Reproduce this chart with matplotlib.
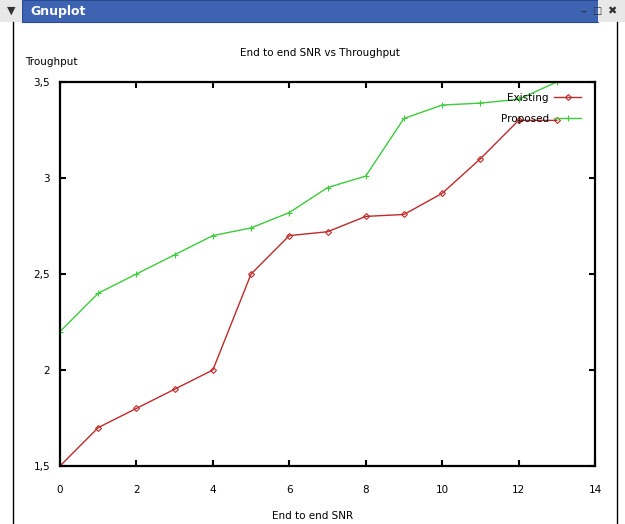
import matplotlib
matplotlib.use("Agg")
import matplotlib.pyplot as plt
from matplotlib.patches import Rectangle
from matplotlib.lines import Line2D

plt.rcParams['font.family'] = ['DejaVu Sans']

snr = [0, 1, 2, 3, 4, 5, 6, 7, 8, 9, 10, 11, 12, 13]
existing = [1.5, 1.7, 1.8, 1.9, 2.0, 2.5, 2.7, 2.72, 2.8, 2.81, 2.92, 3.1, 3.3, 3.3]
proposed = [2.2, 2.4, 2.5, 2.6, 2.7, 2.74, 2.82, 2.95, 3.01, 3.31, 3.38, 3.39, 3.41, 3.5]
xticks = [0, 2, 4, 6, 8, 10, 12, 14]
xtick_labels = ["0", "2", "4", "6", "8", "10", "12", "14"]
yticks = [1.5, 2.0, 2.5, 3.0, 3.5]
ytick_labels = ["1,5", "2", "2,5", "3", "3,5"]

W, H = 625, 524
fig = plt.figure(figsize=(W / 100, H / 100), dpi=100)
fig.patch.set_facecolor("white")

def px(x, y):
    return x / W, 1 - y / H

# window frame
fig.add_artist(Rectangle(px(22, 22), (598 - 22) / W, 22 / H, transform=fig.transFigure,
                         facecolor="#3f63b3", edgecolor="#2a4a90", lw=0.8))
fig.add_artist(Rectangle(px(0, 22), 22 / W, 22 / H, transform=fig.transFigure,
                         facecolor="#e8e8e8", edgecolor="none"))
fig.add_artist(Rectangle(px(598, 22), 27 / W, 22 / H, transform=fig.transFigure,
                         facecolor="#e8e8e8", edgecolor="none"))
fig.text(*px(11, 11), "\u25bc", ha="center", va="center", fontsize=8, color="#333333")
fig.text(*px(30, 11), "Gnuplot", ha="left", va="center", fontsize=9, color="white",
         fontweight="bold")
fig.text(*px(583, 12), "\u2013", ha="center", va="center", fontsize=8, color="#333333",
         fontweight="bold")
fig.text(*px(597, 11), "\u25a1", ha="center", va="center", fontsize=7, color="#333333")
fig.text(*px(612, 11), "\u2716", ha="center", va="center", fontsize=8, color="#333333")
fig.add_artist(Line2D([13 / W, 13 / W], [0, 1 - 22 / H], transform=fig.transFigure,
                      color="black", lw=1.0))
fig.add_artist(Line2D([617 / W, 617 / W], [0, 1 - 22 / H], transform=fig.transFigure,
                      color="black", lw=1.0))

left, right, top, bottom = 60, 595, 82, 466
ax = fig.add_axes([left / W, 1 - bottom / H, (right - left) / W, (bottom - top) / H])

red = "#c02a2a"
green = "#3ccc3c"
ax.plot(snr, existing, color=red, lw=1.0, marker="D", ms=3, mfc="none", mew=0.8,
        label="Existing")
ax.plot(snr, proposed, color=green, lw=1.0, marker="+", ms=5, mew=0.8, label="Proposed")

ax.set_xlim(0, 14)
ax.set_ylim(1.5, 3.5)
ax.set_xticks(xticks)
ax.set_xticklabels(xtick_labels)
ax.set_yticks(yticks)
ax.set_yticklabels(ytick_labels)
ax.tick_params(direction="in", length=4, width=1.5, top=True, right=True,
               labelsize=7.5, colors="black")
ax.tick_params(axis="x", pad=14)
ax.tick_params(axis="y", pad=7)
for s in ax.spines.values():
    s.set_linewidth(1.6)

leg = ax.legend(loc="upper right", frameon=False, fontsize=7.5, markerfirst=False,
                handlelength=2.6, handletextpad=0.5, labelspacing=1.0,
                borderaxespad=0.3, bbox_to_anchor=(0.988, 0.99))

fig.text(*px(320, 53), "End to end SNR vs Throughput", ha="center", va="center",
         fontsize=7.5)
fig.text(*px(313, 516), "End to end SNR", ha="center", va="center", fontsize=7.5)
fig.text(*px(25, 62), "Troughput", ha="left", va="center", fontsize=7.5)

fig.savefig("out.png", dpi=100)
